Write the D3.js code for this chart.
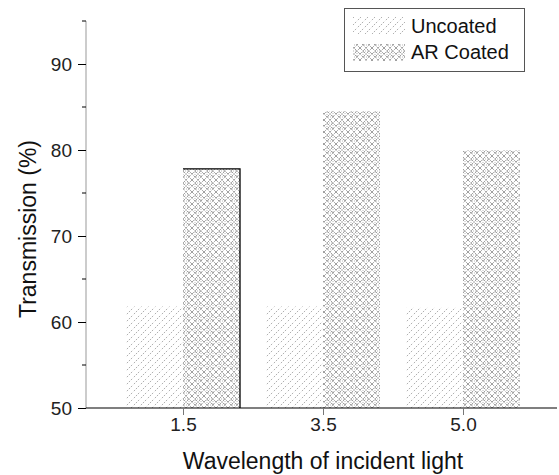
<!DOCTYPE html>
<html>
<head>
<meta charset="utf-8">
<script src="https://cdn.jsdelivr.net/npm/d3@7"></script>
<style>
body{margin:0;background:#fff;}
svg{display:block;font-family:"Liberation Sans",Arial,sans-serif;}
</style>
</head>
<body>
<svg id="chart" width="559" height="475"></svg>
<script>
const categories = ["1.5", "3.5", "5.0"];
const seriesNames = ["Uncoated", "AR Coated"];
const uncoated = [61.8, 61.8, 61.7];
const arCoated = [77.8, 84.5, 80.0];
const yTicks = [50, 60, 70, 80, 90];
const yMinorTicks = [55, 65, 75, 85, 95];

const svg = d3.select("#chart");
const defs = svg.append("defs");

// Uncoated: sparse dotted diagonal hatch
const p1 = defs.append("pattern").attr("id","hatch").attr("patternUnits","userSpaceOnUse")
  .attr("width",7).attr("height",7);
p1.append("rect").attr("width",7).attr("height",7).attr("fill","#fff");
p1.append("path").attr("d","M-1,8 L8,-1 M-4.5,4.5 L4.5,-4.5 M2.5,11.5 L11.5,2.5")
  .attr("stroke","#999").attr("stroke-width",0.8).attr("stroke-dasharray","1.6,1.2");

// AR Coated: dense dotted crosshatch with diamond texture
const p2 = defs.append("pattern").attr("id","cross").attr("patternUnits","userSpaceOnUse")
  .attr("width",12).attr("height",12);
p2.append("rect").attr("width",12).attr("height",12).attr("fill","#fff");
p2.append("path").attr("d","M0,0 L12,12 M-6,6 L6,18 M6,-6 L18,6 M12,0 L0,12 M-6,6 L6,-6 M6,18 L18,6 M0,6 L6,0 L12,6 L6,12 Z")
  .attr("fill","none").attr("stroke","#666").attr("stroke-width",0.9).attr("stroke-dasharray","1,1");
p2.append("path").attr("d","M3,3 L9,3 L9,9 L3,9 Z")
  .attr("fill","none").attr("stroke","#999").attr("stroke-width",0.7).attr("stroke-dasharray","1,1");

const yAxisX = 86, axisY = 408;
const y = d3.scaleLinear().domain([50, 95]).range([axisY, 21]);
const x = d3.scalePoint().domain(categories).range([183, 463]);
const barW = 57;

// Axes
const yAxis = d3.axisLeft(y).tickValues(yTicks).tickSize(8).tickPadding(6).tickFormat(d3.format("d"));
const gY = svg.append("g").attr("transform",`translate(${yAxisX},0)`).call(yAxis);
gY.select(".domain").attr("stroke","#999").attr("d",`M0,${y(95)}V${axisY}`);
gY.selectAll(".tick line").attr("stroke","#000");
gY.selectAll(".tick text").attr("font-size",19).attr("fill","#222");
gY.selectAll(".minor").data(yMinorTicks).enter().append("line")
  .attr("x1",-4).attr("x2",0).attr("y1",d=>y(d)).attr("y2",d=>y(d)).attr("stroke","#000");

// Bars
const g = svg.append("g");
g.selectAll(".unc").data(uncoated).enter().append("rect")
  .attr("x",(d,i)=>x(categories[i])-barW).attr("width",barW)
  .attr("y",d=>y(d)).attr("height",d=>axisY-y(d)).attr("fill","url(#hatch)");
g.selectAll(".ar").data(arCoated).enter().append("rect")
  .attr("x",(d,i)=>x(categories[i])).attr("width",barW)
  .attr("y",d=>y(d)).attr("height",d=>axisY-y(d)).attr("fill","url(#cross)");
// outline on first coated bar (top and right edges)
g.append("path")
  .attr("d",`M${x(categories[0])},${y(arCoated[0])}H${x(categories[0])+barW}V${axisY}`)
  .attr("fill","none").attr("stroke","#000").attr("stroke-width",1.3);

// X axis
const xAxis = d3.axisBottom(x).tickSize(7).tickPadding(3);
const gX = svg.append("g").attr("transform",`translate(0,${axisY})`).call(xAxis);
gX.select(".domain").attr("d",`M${yAxisX},0H557`).attr("stroke","#000").attr("stroke-width",1.2);
gX.selectAll(".tick line").attr("stroke","#777");
gX.selectAll(".tick text").attr("font-size",19).attr("fill","#222");

// Titles
svg.append("text").attr("x",323).attr("y",469).attr("text-anchor","middle")
  .attr("font-size",23).attr("fill","#111").text("Wavelength of incident light");
svg.append("text").attr("transform","translate(36,229) rotate(-90)").attr("text-anchor","middle")
  .attr("font-size",23).attr("fill","#111").text("Transmission (%)");

// Legend
const leg = svg.append("g");
leg.append("rect").attr("x",344.5).attr("y",8.5).attr("width",180).attr("height",63)
  .attr("fill","#fff").attr("stroke","#555");
const fills = ["url(#hatch)","url(#cross)"];
seriesNames.forEach((n,i)=>{
  leg.append("rect").attr("x",353).attr("y",17+i*27).attr("width",52).attr("height",17).attr("fill",fills[i]);
  leg.append("text").attr("x",411).attr("y",33+i*26).attr("font-size",20).attr("fill","#111").text(n);
});
</script>
</body>
</html>
